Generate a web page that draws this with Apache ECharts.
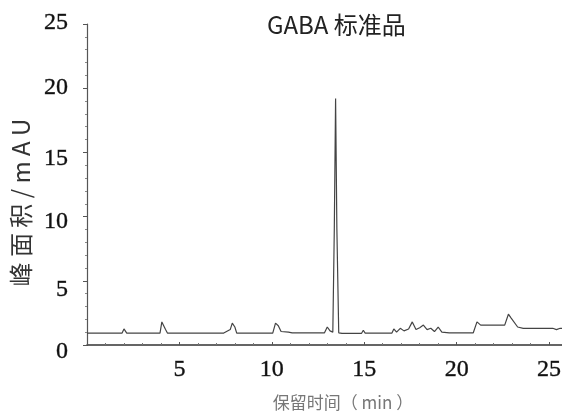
<!DOCTYPE html>
<html>
<head>
<meta charset="utf-8">
<script src="https://cdn.jsdelivr.net/npm/echarts@6/dist/echarts.min.js"></script>
<style>
  html, body { margin: 0; padding: 0; background: #fff; }
  #chart { width: 562px; height: 411px; }
</style>
</head>
<body>
<div id="chart"></div>
<script>
// 保留时间 (min) 和 峰面积 (mAU)
var times = [0, 1.9, 2.0, 2.05, 2.15, 3.95, 4.05, 4.1, 4.25, 4.35, 7.4, 7.55, 7.75, 7.86, 8.0, 8.1,
  10.05, 10.2, 10.35, 10.5, 10.9, 11.0, 11.1, 11.4, 11.5, 11.6, 12.85, 13.0, 13.15, 13.3,
  13.38, 13.45, 13.52, 13.62, 13.8, 14.85, 14.95, 15.05, 16.5, 16.6, 16.75, 16.95, 17.15,
  17.4, 17.6, 17.8, 18.0, 18.2, 18.4, 18.6, 18.8, 19.0, 19.2, 19.6, 20.9, 21.1, 21.3,
  21.5, 22.6, 22.8, 22.95, 23.05, 23.3, 23.6, 25.2, 25.4, 25.6, 25.7];
var area = [0.93, 0.93, 1.25, 1.1, 0.93, 0.93, 1.8, 1.75, 1.2, 0.93, 0.93, 1.05, 1.2, 1.7, 1.4, 0.93,
  0.93, 1.7, 1.5, 1.05, 1.0, 1.05, 0.95, 0.95, 1.05, 0.95, 0.95, 1.4, 1.1, 1.0,
  9.0, 19.2, 9.0, 0.95, 0.9, 0.9, 1.15, 0.93, 0.93, 1.25, 1.0, 1.3, 1.1,
  1.25, 1.8, 1.2, 1.35, 1.55, 1.2, 1.3, 1.05, 1.4, 1.0, 0.95, 0.95, 1.8, 1.55,
  1.55, 1.55, 2.4, 2.1, 2.0, 1.4, 1.3, 1.3, 1.2, 1.3, 1.3];
var xTicks = [5, 10, 15, 20, 25];
var yTicks = [0, 5, 10, 15, 20, 25];

var points = [];
for (var i = 0; i < times.length; i++) {
  points.push([times[i], area[i]]);
}

// 扫描图里纵轴数字和刻度略有错位，这里逐个微调
var yRich = {
  y0: { padding: [14, 0, 0, 0] },
  y5: { padding: [18, 0, 0, 0] },
  y10: { padding: [11, 0, 0, 0] },
  y15: { padding: [13, 0, 0, 0] },
  y20: { padding: [0, 0, 0, 0] },
  y25: { padding: [0, 0, 2, 0] }
};

var chart = echarts.init(document.getElementById('chart'));
var option = {
  backgroundColor: '#fff',
  animation: false,
  title: {
    text: 'GABA 标准品',
    left: 262,
    top: 8,
    textStyle: { fontFamily: 'Noto Sans CJK SC', fontSize: 24, fontWeight: 'normal', color: '#222' }
  },
  grid: { left: 87, right: 0, top: 24, bottom: 66, outerBoundsMode: 'none' },
  xAxis: {
    type: 'value',
    min: 0,
    max: 25.7,
    interval: 5,
    name: '保留时间（ min ）',
    nameLocation: 'middle',
    nameGap: 49,
    nameTextStyle: { fontFamily: 'Noto Sans CJK SC', fontSize: 17, color: '#777', padding: [0, 0, 0, 37] },
    axisLine: { lineStyle: { color: '#333', width: 1.5 } },
    axisTick: { inside: true, length: 3, lineStyle: { color: '#555' } },
    minorTick: { show: true, splitNumber: 5, length: 2, lineStyle: { color: '#777' } },
    axisLabel: {
      margin: 13,
      fontFamily: 'Liberation Serif',
      fontSize: 24,
      color: '#111',
      textBorderColor: '#333',
      textBorderWidth: 0.4,
      formatter: function (v) { return xTicks.indexOf(v) >= 0 ? String(v) : ''; }
    },
    splitLine: { show: false }
  },
  yAxis: {
    type: 'value',
    min: 0,
    max: 25,
    interval: 5,
    name: '峰 面 积 / m A U',
    nameLocation: 'middle',
    nameGap: 40,
    nameTextStyle: { fontFamily: 'Noto Sans CJK SC', fontSize: 24, color: '#333', padding: [0, 36, 0, 0] },
    axisLine: { show: true, lineStyle: { color: '#555', width: 1.2 } },
    axisTick: { inside: false, length: 4, lineStyle: { color: '#555' } },
    minorTick: { show: true, splitNumber: 5, length: 2, lineStyle: { color: '#888' } },
    axisLabel: {
      margin: 19,
      fontFamily: 'Liberation Serif',
      fontSize: 24,
      color: '#111',
      textBorderColor: '#333',
      textBorderWidth: 0.4,
      rich: yRich,
      formatter: function (v) {
        return yTicks.indexOf(v) >= 0 ? '{y' + v + '|' + v + '}' : '';
      }
    },
    splitLine: { show: false }
  },
  series: [
    {
      type: 'line',
      data: points,
      symbol: 'none',
      lineStyle: { color: '#444', width: 1.2 }
    }
  ]
};
chart.setOption(option);
</script>
</body>
</html>
